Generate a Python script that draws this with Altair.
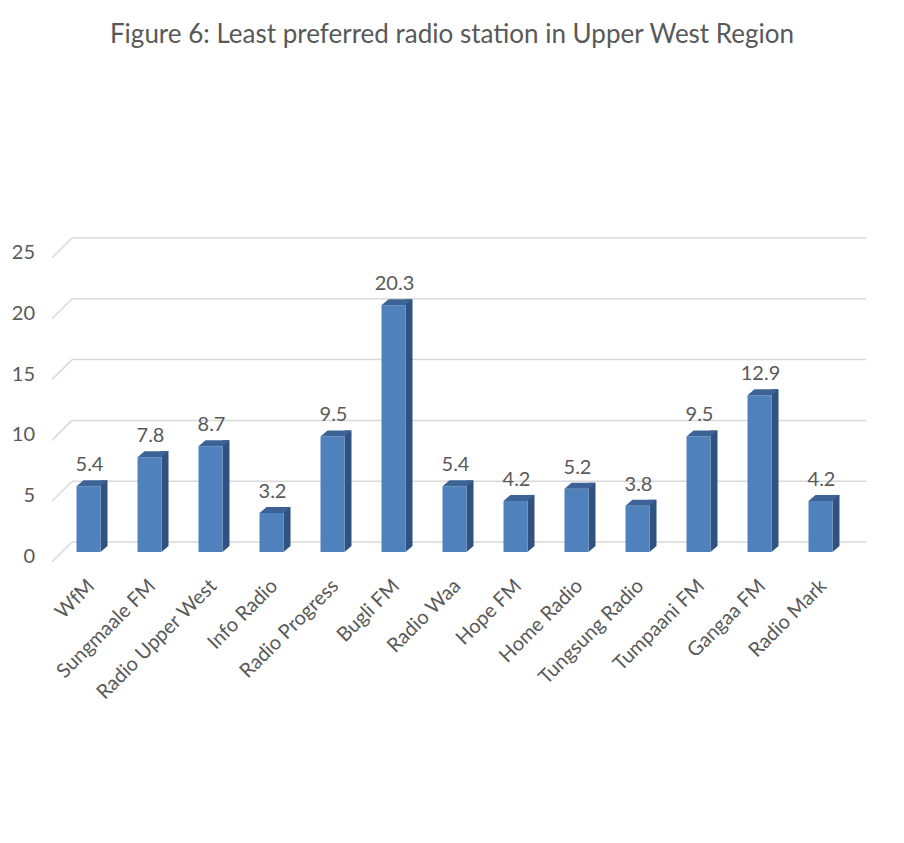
import altair as alt
import pandas as pd

stations = ["WfM", "Sungmaale FM", "Radio Upper West", "Info Radio", "Radio Progress",
            "Bugli FM", "Radio Waa", "Hope FM", "Home Radio", "Tungsung Radio",
            "Tumpaani FM", "Gangaa FM", "Radio Mark"]
values = [5.4, 7.8, 8.7, 3.2, 9.5, 20.3, 5.4, 4.2, 5.2, 3.8, 9.5, 12.9, 4.2]
y_ticks = [0, 5, 10, 15, 20, 25]
title_text = "Figure 6: Least preferred radio station in Upper West Region"

FONT = "Lato"
TXT = "#595959"
FRONT = "#4f81bd"
SIDE = "#2f5280"
TOP = "#3d6396"
GRID = "#d9d9d9"

df = pd.DataFrame({"station": stations, "value": values,
                   "label": [f"{v:.1f}" for v in values],
                   "zero": [0] * len(values)})
ticks = pd.DataFrame({"v": y_ticks, "t": [str(t) for t in y_ticks]})
tdf = pd.DataFrame({"t": [title_text]})

xs = alt.X("station:N", sort=stations, axis=None,
           scale=alt.Scale(paddingInner=0, paddingOuter=0))
ysc = alt.Scale(domain=[0, 25], nice=False, zero=True)
yv = alt.Y("value:Q", scale=ysc, axis=None)
y0 = alt.Y("zero:Q", scale=ysc, axis=None)

grid = alt.Chart(ticks).mark_rule(color=GRID, strokeWidth=1.5, yOffset=-10).encode(
    x=alt.value(14), x2=alt.value(808), y=alt.Y("v:Q", scale=ysc, axis=None))
diag = alt.Chart(ticks).mark_rule(color=GRID, strokeWidth=1.5, yOffset=10, y2Offset=-10).encode(
    x=alt.value(-6), x2=alt.value(14),
    y=alt.Y("v:Q", scale=ysc, axis=None), y2="v:Q")
ylab = alt.Chart(ticks).mark_text(font=FONT, fontSize=20, color=TXT, align="right",
                                  baseline="middle", yOffset=5).encode(
    x=alt.value(-23), y=alt.Y("v:Q", scale=ysc, axis=None), text="t:N")

side = alt.Chart(df).mark_bar(width=7, xOffset=15.5, yOffset=-6, y2Offset=-6,
                              color=SIDE).encode(x=xs, y=yv, y2="zero:Q")
bottom_tri = alt.Chart(df).mark_point(shape="M12,-6L19,-6L12,0Z", size=4, filled=True,
                                      opacity=1, strokeWidth=0, color=SIDE).encode(
    x=xs, y=y0)
front = alt.Chart(df).mark_bar(width=24, color=FRONT).encode(x=xs, y=yv, y2="zero:Q")
top = alt.Chart(df).mark_point(shape="M-12,0L-5,-6L19,-6L12,0Z", size=4, filled=True,
                               opacity=1, strokeWidth=0, color=TOP).encode(x=xs, y=yv)
vlab = alt.Chart(df).mark_text(font=FONT, fontSize=20, color=TXT, baseline="middle",
                               yOffset=-21, xOffset=1).encode(x=xs, y=yv, text="label:N")
xlab = alt.Chart(df).mark_text(font=FONT, fontSize=20, color=TXT, angle=315, align="right",
                               baseline="middle", xOffset=3, yOffset=31).encode(
    x=xs, y=y0, text="station:N")
title = alt.Chart(tdf).mark_text(font=FONT, fontSize=26, color=TXT, align="center",
                                 baseline="middle").encode(
    x=alt.value(394), y=alt.value(-213), text="t:N")

chart = alt.layer(grid, diag, ylab, side, bottom_tri, front, top, vlab, xlab, title).properties(
    width=793, height=304,
    autosize=alt.AutoSizeParams(type="none"),
    padding={"left": 50, "top": 240, "right": 45, "bottom": 283},
).configure(background="white").configure_view(stroke="transparent", strokeWidth=0)

chart.save("out.html", embed_options={"renderer": "svg", "actions": False})
